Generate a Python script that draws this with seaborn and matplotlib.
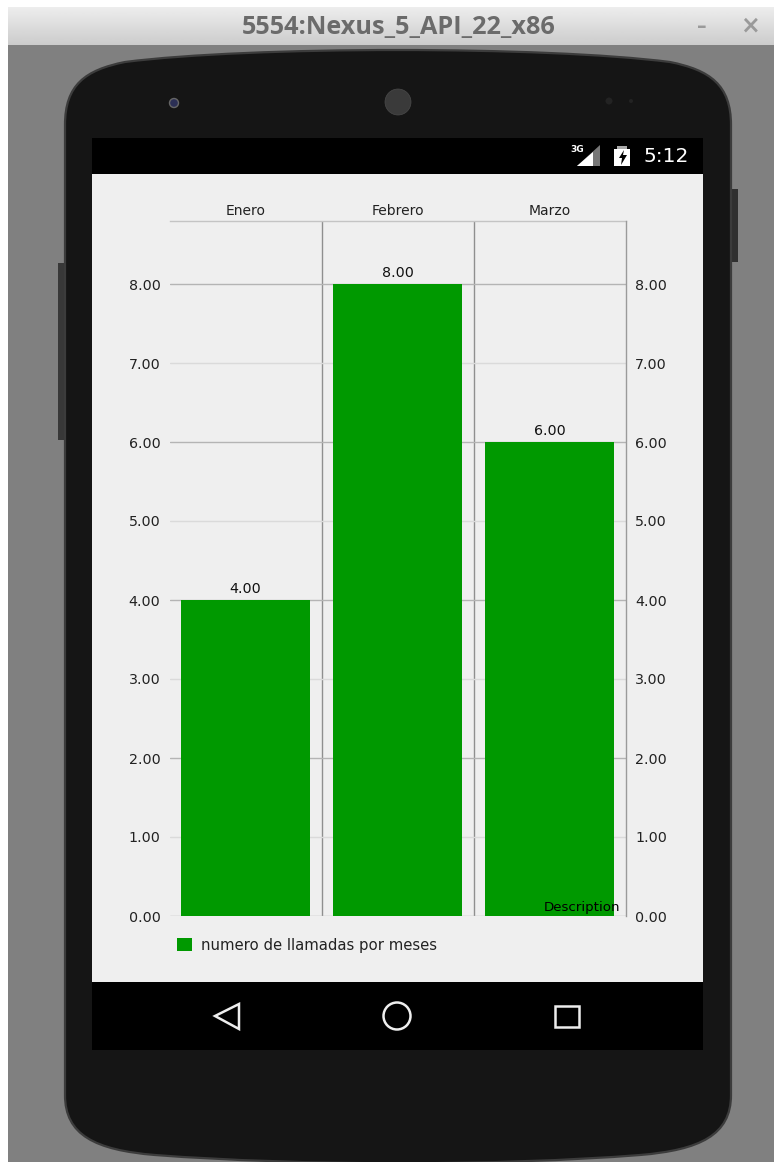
import numpy as np
import pandas as pd
import matplotlib
matplotlib.use("Agg")
import matplotlib.pyplot as plt
import seaborn as sns
from matplotlib.patches import Rectangle, PathPatch, Circle, Polygon
from matplotlib.path import Path

months = ["Enero", "Febrero", "Marzo"]
calls = [4, 8, 6]
y_ticks = [0, 1, 2, 3, 4, 5, 6, 7, 8]
legend_label = "numero de llamadas por meses"
window_title = "5554:Nexus_5_API_22_x86"
description = "Description"
clock = "5:12"

W, H = 774, 1162
sns.set_theme(style="white")
plt.rcParams["font.family"] = ["DejaVu Sans"]
fig = plt.figure(figsize=(W / 100, H / 100), dpi=100, facecolor="white")

# --- emulator chrome, in pixel coordinates ---
bg = fig.add_axes([0, 0, 1, 1], zorder=0)
bg.set_xlim(0, W)
bg.set_ylim(H, 0)
bg.axis("off")

def rect(x0, y0, x1, y1, color, **kw):
    bg.add_patch(Rectangle((x0, y0), x1 - x0, y1 - y0, fc=color, ec="none", **kw))

rect(8, 45, W, H, "#808080")
grad = np.linspace(0.93, 0.80, 40).reshape(-1, 1)
bg.imshow(grad, extent=(8, W, 45, 7), cmap="gray", vmin=0, vmax=1, aspect="auto", zorder=1)
bg.set_xlim(0, W)
bg.set_ylim(H, 0)
bg.text(399, 28, window_title, ha="center", va="center", fontsize=18.2, fontweight="bold",
        color="#6b6b6b", family="Open Sans", zorder=3)
bg.text(702, 26, "\u2013", ha="center", va="center", fontsize=14, fontweight="bold", color="#9a9a9a", zorder=3)
bg.text(750, 26, "\u00d7", ha="center", va="center", fontsize=17, fontweight="bold", color="#9a9a9a", zorder=3)

rect(731, 189, 738, 262, "#303030", zorder=1)
rect(58, 263, 65, 440, "#383838", zorder=1)

C, L = Path.CURVE4, Path.LINETO
verts = [(65, 125), (65, 85), (85, 70), (125, 62), (250, 46), (545, 46), (670, 62),
         (710, 70), (731, 85), (731, 125), (731, 1095), (731, 1135), (700, 1150), (640, 1155),
         (500, 1166), (300, 1166), (155, 1155), (95, 1150), (65, 1135), (65, 1095), (65, 125)]
codes = [Path.MOVETO, C, C, C, C, C, C, C, C, C, L, C, C, C, C, C, C, C, C, C, L]
bg.add_patch(PathPatch(Path(verts, codes), fc="#151515", ec="#3c3c3c", lw=1.6, zorder=2))

bg.add_patch(Circle((174, 103), 4.5, fc="#2b2f55", ec="#666666", lw=1, zorder=3))
bg.add_patch(Circle((398, 102), 13, fc="#3a3a3a", ec="#4a4a4a", lw=0.5, zorder=3))
bg.add_patch(Circle((609, 101), 3.5, fc="#232323", ec="none", zorder=3))
bg.add_patch(Circle((631, 101), 2, fc="#232323", ec="none", zorder=3))

rect(92, 138, 703, 174, "black", zorder=3)
rect(92, 174, 703, 982, "#efefef", zorder=3)
rect(92, 982, 703, 1050, "black", zorder=3)

bg.add_patch(Polygon([(577, 166), (600, 145), (600, 166)], fc="#777777", ec="none", zorder=4))
bg.add_patch(Polygon([(577, 166), (593, 152), (593, 166)], fc="white", ec="none", zorder=5))
bg.text(577, 150, "3G", ha="center", va="center", fontsize=6.5, fontweight="bold", color="white", zorder=5)
rect(614, 149, 630, 166, "white", zorder=4)
rect(617, 146, 627, 149, "#aaaaaa", zorder=4)
bg.add_patch(Polygon([(624, 150), (619, 158), (622, 158), (621, 165), (627, 155), (623, 155)],
                     fc="black", ec="none", zorder=5))
bg.text(666, 156, clock, ha="center", va="center", fontsize=14.5, color="white", zorder=5)

bg.add_patch(Polygon([(239, 1004), (239, 1029), (215, 1016)], closed=True, fc="none", ec="#eeeeee", lw=1.8, zorder=5))
bg.add_patch(Circle((397, 1016), 13.5, fc="none", ec="#eeeeee", lw=1.8, zorder=5))
bg.add_patch(Rectangle((555, 1006), 24, 21, fc="none", ec="#eeeeee", lw=1.8, zorder=5))

# --- the chart ---
left, right, top, bottom = 169.5, 625.5, 221, 916
ax = fig.add_axes([left / W, 1 - bottom / H, (right - left) / W, (bottom - top) / H], zorder=2)
ax.patch.set_alpha(0)
df = pd.DataFrame({"month": months, "calls": calls})
sns.barplot(data=df, x="month", y="calls", color="#009900", saturation=1, width=0.855,
            linewidth=0, edgecolor="none", label=legend_label, ax=ax, zorder=3)
ymax = 8 * (bottom - top) / (bottom - 284)
ax.set_ylim(0, ymax)
ax.set_xlim(-0.5, 2.5)
ax.set_xlabel("")
ax.set_ylabel("")
ax.set_yticks(y_ticks)
ax.set_yticklabels([f"{v:.2f}" for v in y_ticks])
ax.set_xticks(range(len(months)))
ax.set_xticklabels(months)
ax.xaxis.tick_top()
ax.tick_params(axis="x", length=0, pad=2.5, labelsize=10, labelcolor="#222222")
ax.tick_params(axis="y", length=0, pad=6.5, labelsize=10.3, labelcolor="#222222")

ax.set_axisbelow(True)
ax.yaxis.grid(True, lw=1)
for v, gl in zip(y_ticks, ax.yaxis.get_gridlines()):
    gl.set_color("#b4b4b4" if v % 2 == 0 else "#dadada")
ax.set_xticks([0.5, 1.5], minor=True)
ax.xaxis.grid(True, which="minor", color="#8f8f8f", lw=1.0)
ax.tick_params(axis="x", which="minor", length=0)

for s in ("left", "bottom", "right"):
    ax.spines[s].set_visible(False)
ax.spines["top"].set_color("#c4c4c4")
ax.spines["top"].set_linewidth(1)

ax2 = ax.twinx()
ax2.set_ylim(ax.get_ylim())
ax2.set_yticks(y_ticks)
ax2.set_yticklabels([f"{v:.2f}" for v in y_ticks])
ax2.tick_params(axis="y", length=0, pad=7, labelsize=10.3, labelcolor="#222222")
ax2.grid(False)
for s in ("left", "top", "bottom"):
    ax2.spines[s].set_visible(False)
ax2.spines["right"].set_color("#9a9a9a")
ax2.spines["right"].set_linewidth(1.0)

ax.bar_label(ax.containers[0], fmt="%.2f", padding=3, fontsize=10.3, color="#111111")

leg = ax.legend(loc="center left", bbox_to_anchor=(177, 945.5), bbox_transform=bg.transData,
                frameon=False, fontsize=10.7, handlelength=1.0, handleheight=0.95,
                handletextpad=0.6, borderpad=0, borderaxespad=0, labelcolor="#222222")

ax2.text(620, 907, description, transform=bg.transData, ha="right", va="center",
         fontsize=9.6, color="black", zorder=6)

fig.savefig("out.png", dpi=100)
